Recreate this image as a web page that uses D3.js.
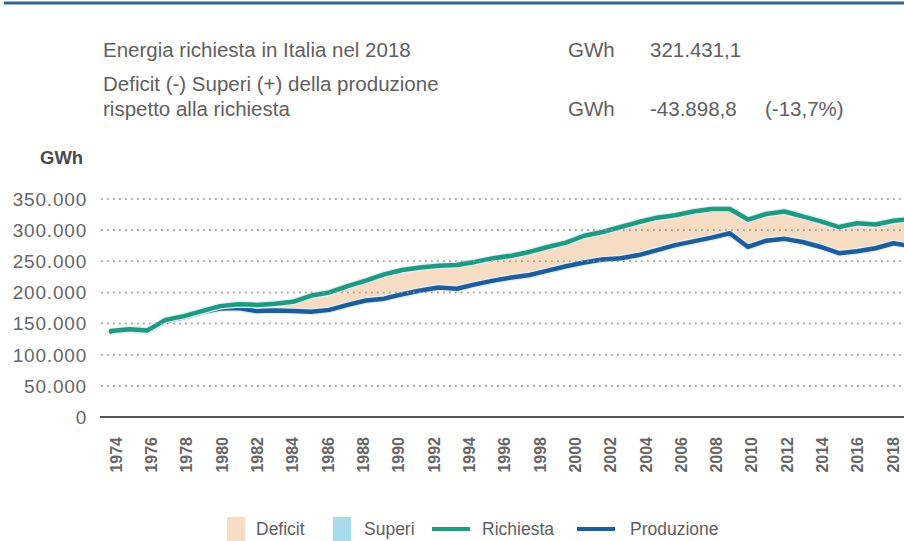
<!DOCTYPE html>
<html>
<head>
<meta charset="utf-8">
<script src="https://cdn.jsdelivr.net/npm/d3@7"></script>
<style>
  body { margin: 0; background: #fff; }
  svg { display: block; font-family: "Liberation Sans", Arial, sans-serif; }
</style>
</head>
<body>
<div id="chart"></div>
<script>
// Data (GWh)
const years = d3.range(1974, 2019);
const richiesta = [
  138000, 141000, 139000, 156000, 162000, 170000, 178000, 181000, 180000, 182000,
  185000, 195000, 200000, 210000, 219000, 229000, 236000, 240000, 243000, 244000,
  249000, 255000, 259000, 265000, 273000, 280000, 291000, 297000, 305000, 313000,
  320000, 324000, 330000, 334000, 334000, 317000, 326000, 330000, 322000, 314000,
  305000, 311000, 309000, 315000, 318000
];
const produzione = [
  137000, 140000, 138000, 154000, 160000, 168000, 174000, 175000, 170000, 171000,
  170000, 169000, 172000, 180000, 187000, 190000, 197000, 203000, 208000, 206000,
  213000, 219000, 224000, 228000, 235000, 242000, 248000, 253000, 255000, 260000,
  268000, 276000, 282000, 288000, 295000, 273000, 283000, 286000, 281000, 273000,
  263000, 266000, 271000, 279000, 274000
];
const labelYears = d3.range(1974, 2019, 2);
const yTicks = [0, 50000, 100000, 150000, 200000, 250000, 300000, 350000];

const header = [
  { text: "Energia richiesta in Italia nel 2018", unit: "GWh", value: "321.431,1", note: "" },
  { text: "Deficit (-) Superi (+) della produzione", unit: "", value: "", note: "" },
  { text: "rispetto alla richiesta", unit: "GWh", value: "-43.898,8", note: "(-13,7%)" }
];

const colors = {
  richiesta: "#1f9a7c",
  produzione: "#1f5c9c",
  deficit: "#f5dcc2",
  superi: "#a9dbee",
  text: "#606060",
  grid: "#9a9a9a",
  rule: "#35668f"
};

const width = 904, height = 541;
const it = d3.formatLocale({ decimal: ",", thousands: ".", grouping: [3], currency: ["", "€"] });
const fmt = it.format(",");

const svg = d3.select("#chart").append("svg")
  .attr("width", width)
  .attr("height", height);

// top rule
svg.append("line")
  .attr("x1", 4).attr("x2", width)
  .attr("y1", 3).attr("y2", 3)
  .attr("stroke", colors.rule)
  .attr("stroke-width", 3);

// header block
const rowY = [57, 91, 116];
header.forEach((h, i) => {
  const g = svg.append("g").attr("fill", colors.text).style("font-size", "20.5px");
  g.append("text").attr("x", 103).attr("y", rowY[i]).text(h.text);
  if (h.unit) g.append("text").attr("x", 568).attr("y", rowY[i]).text(h.unit);
  if (h.value) g.append("text").attr("x", 650).attr("y", rowY[i]).text(h.value);
  if (h.note) g.append("text").attr("x", 765).attr("y", rowY[i]).text(h.note);
});

// scales
const x = d3.scaleLinear().domain([1974, 2018]).range([111, 911.8]);
const xLabel = d3.scalePoint().domain(labelYears).range([116, 893]);
const y = d3.scaleLinear().domain([0, 350000]).range([417, 199]);

const plot = svg.append("g");

// axis title
svg.append("text")
  .attr("x", 40).attr("y", 164)
  .attr("fill", "#4a4a4a")
  .style("font-size", "18.5px")
  .style("font-weight", "bold")
  .text("GWh");

// gridlines + y labels
const yAxis = svg.append("g");
yTicks.forEach(t => {
  if (t > 0) {
    yAxis.append("line")
      .attr("x1", 101).attr("x2", width)
      .attr("y1", y(t)).attr("y2", y(t))
      .attr("stroke", colors.grid)
      .attr("stroke-width", 1.6)
      .attr("stroke-dasharray", "1.6,4.4");
  }
  yAxis.append("text")
    .attr("x", 87).attr("y", y(t))
    .attr("dy", "0.36em")
    .attr("text-anchor", "end")
    .attr("fill", "#666")
    .style("font-size", "19px")
    .style("letter-spacing", "0.8px")
    .text(fmt(t));
});

const rows = years.map((yr, i) => ({ year: yr, req: richiesta[i], prod: produzione[i] }));

// deficit / superi areas
plot.append("path")
  .datum(rows)
  .attr("fill", colors.deficit)
  .attr("d", d3.area()
    .x(d => x(d.year))
    .y0(d => y(d.prod))
    .y1(d => y(Math.max(d.req, d.prod))));
plot.append("path")
  .datum(rows)
  .attr("fill", colors.superi)
  .attr("d", d3.area()
    .x(d => x(d.year))
    .y0(d => y(d.req))
    .y1(d => y(Math.max(d.req, d.prod))));

// grid dots faintly over the deficit band
yTicks.filter(t => t > 0).forEach(t => {
  plot.append("line")
    .attr("x1", 101).attr("x2", width)
    .attr("y1", y(t)).attr("y2", y(t))
    .attr("stroke", "#d9c3a8")
    .attr("stroke-width", 1.6)
    .attr("stroke-dasharray", "1.6,4.4");
});

// zero line
svg.append("line")
  .attr("x1", 100).attr("x2", width)
  .attr("y1", y(0)).attr("y2", y(0))
  .attr("stroke", "#555")
  .attr("stroke-width", 2);

// lines
const line = key => d3.line().x(d => x(d.year)).y(d => y(d[key]));
[["prod", colors.produzione], ["req", colors.richiesta]].forEach(([key, c]) => {
  plot.append("path")
    .datum(rows)
    .attr("fill", "none")
    .attr("stroke", "#dff1f7")
    .attr("stroke-width", 7)
    .attr("stroke-linejoin", "round")
    .attr("d", line(key));
  plot.append("path")
    .datum(rows)
    .attr("fill", "none")
    .attr("stroke", c)
    .attr("stroke-width", 4.5)
    .attr("stroke-linejoin", "round")
    .attr("stroke-linecap", "round")
    .attr("d", line(key));
});

// x labels (rotated)
svg.append("g").selectAll("text")
  .data(labelYears)
  .join("text")
  .attr("transform", d => `translate(${xLabel(d)},437) rotate(-90)`)
  .attr("text-anchor", "end")
  .attr("dy", "0.36em")
  .attr("fill", "#666")
  .style("font-size", "16px")
  .style("font-weight", "bold")
  .text(d => d);

// legend
const legend = svg.append("g").style("font-size", "17.5px");
const legendItems = [
  { label: "Deficit", type: "rect", color: colors.deficit, x: 227, tx: 256 },
  { label: "Superi", type: "rect", color: colors.superi, x: 333, tx: 364 },
  { label: "Richiesta", type: "line", color: colors.richiesta, x: 432, tx: 482 },
  { label: "Produzione", type: "line", color: colors.produzione, x: 577, tx: 630 }
];
legendItems.forEach(d => {
  if (d.type === "rect") {
    legend.append("rect")
      .attr("x", d.x).attr("y", 517)
      .attr("width", 18).attr("height", 24)
      .attr("fill", d.color);
  } else {
    legend.append("line")
      .attr("x1", d.x).attr("x2", d.x + 38)
      .attr("y1", 529).attr("y2", 529)
      .attr("stroke", d.color)
      .attr("stroke-width", 4);
  }
  legend.append("text")
    .attr("x", d.tx).attr("y", 529)
    .attr("dy", "0.36em")
    .attr("fill", colors.text)
    .text(d.label);
});
</script>
</body>
</html>
